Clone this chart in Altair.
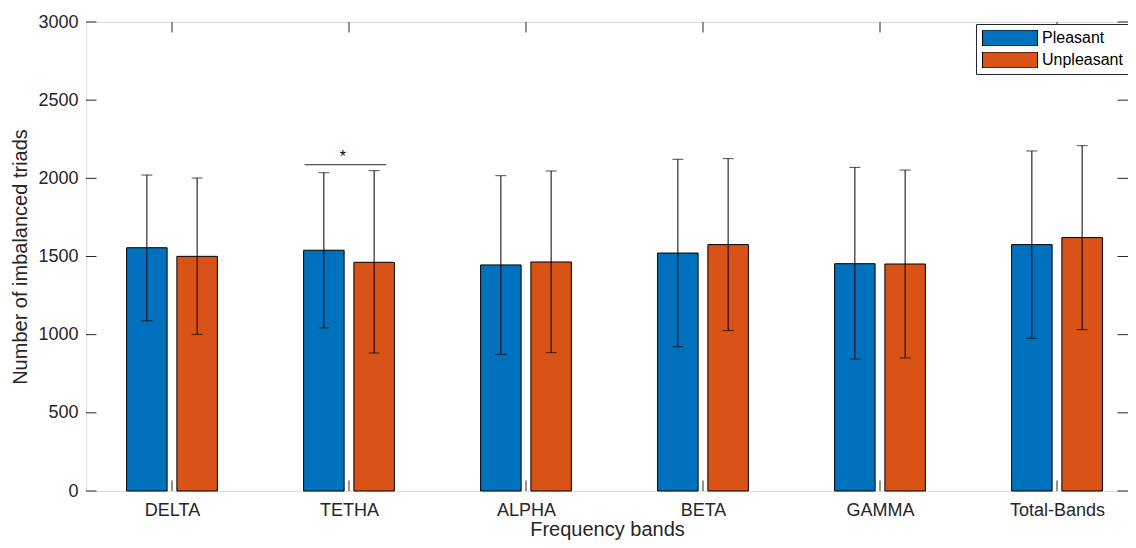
import altair as alt
import pandas as pd

# ---------------- data ----------------
bands = ["DELTA", "TETHA", "ALPHA", "BETA", "GAMMA", "Total-Bands"]
groups = ["Pleasant", "Unpleasant"]
pleasant_mean = [1556, 1540, 1446, 1522, 1454, 1576]
pleasant_low = [1089, 1043, 874, 923, 844, 977]
pleasant_high = [2021, 2036, 2017, 2122, 2070, 2175]
unpleasant_mean = [1501, 1463, 1465, 1576, 1452, 1621]
unpleasant_low = [1002, 883, 885, 1026, 851, 1032]
unpleasant_high = [2002, 2049, 2047, 2126, 2053, 2209]
y_ticks = [0, 500, 1000, 1500, 2000, 2500, 3000]
sig_band = "TETHA"
sig_value = 2087
sig_label = "*"

# ---------------- style ----------------
BLUE = "#0072BD"
ORANGE = "#D95319"
AX = "#262626"
FONT = "Liberation Sans"
W, H = 1042, 469
X0 = 1 - 86 / 177          # left limit of x scale (category units)
X1 = X0 + W / 177          # right limit
Y0, Y1 = 0, 3000
GROUP_OFF = 0.142
HALF_W = 0.1144
TICK_X = 10.5 / 177
TICK_Y = 10.5 * (Y1 - Y0) / H

rows = []
for i, b in enumerate(bands):
    for g, m, lo, hi, off in [
        ("Pleasant", pleasant_mean[i], pleasant_low[i], pleasant_high[i], -GROUP_OFF),
        ("Unpleasant", unpleasant_mean[i], unpleasant_low[i], unpleasant_high[i], GROUP_OFF),
    ]:
        pos = i + 1 + off
        rows.append(dict(band=b, group=g, mean=m, low=lo, high=hi, pos=pos,
                         xa=pos - HALF_W, xb=pos + HALF_W))
df = pd.DataFrame(rows)

xs = alt.Scale(domain=[X0, X1], nice=False, zero=False)
ys = alt.Scale(domain=[Y0, Y1], nice=False, zero=False)

label_expr = "[" + ",".join("'%s'" % b for b in bands) + "][datum.value-1]"

x_axis = alt.Axis(values=list(range(1, len(bands) + 1)), labelExpr=label_expr,
                  title="Frequency bands", tickSize=0, domain=False, grid=False,
                  labelPadding=10, labelFontSize=18, titleFontSize=20,
                  titleFontWeight="normal", titlePadding=0, labelFont=FONT,
                  titleFont=FONT, labelColor=AX, titleColor=AX)
y_axis = alt.Axis(values=y_ticks, format="d", title="Number of imbalanced triads",
                  tickSize=0, domain=False, grid=False, labelPadding=8, labelFontSize=18,
                  titleFontSize=20, titleFontWeight="normal", titlePadding=7,
                  labelFont=FONT, titleFont=FONT, labelColor=AX, titleColor=AX)

base = alt.Chart(df)

bars = base.mark_rect(stroke="black", strokeWidth=1).encode(
    x=alt.X("xa:Q", scale=xs, axis=x_axis),
    x2="xb:Q",
    y=alt.Y("mean:Q", scale=ys, axis=y_axis),
    y2=alt.datum(0),
    color=alt.Color("group:N",
                    scale=alt.Scale(domain=groups, range=[BLUE, ORANGE]),
                    legend=alt.Legend(title=None, orient="none", legendX=890, legendY=2,
                                      symbolType="M-1,-0.29H1V0.29H-1Z", symbolSize=3025,
                                      symbolStrokeColor="black", symbolStrokeWidth=1,
                                      symbolOpacity=1, labelFont=FONT, labelFontSize=16,
                                      labelColor="black", labelOffset=4,
                                      strokeColor=AX, fillColor="white", padding=6,
                                      rowPadding=6, clipHeight=16, labelLimit=300)),
)

err = base.mark_rule(color="black", strokeWidth=1).encode(
    x=alt.X("pos:Q", scale=xs), y=alt.Y("low:Q", scale=ys), y2="high:Q")
cap_lo = base.mark_tick(orient="horizontal", size=11, thickness=1, color="black").encode(
    x=alt.X("pos:Q", scale=xs), y=alt.Y("low:Q", scale=ys))
cap_hi = base.mark_tick(orient="horizontal", size=11, thickness=1, color="black").encode(
    x=alt.X("pos:Q", scale=xs), y=alt.Y("high:Q", scale=ys))

# significance marker
si = bands.index(sig_band) + 1
sig_df = pd.DataFrame([dict(xa=si - GROUP_OFF - HALF_W + 0.005, xb=si + 0.21,
                            y=sig_value, xm=si - 0.034, label=sig_label)])
sig_line = alt.Chart(sig_df).mark_rule(color=AX, strokeWidth=1).encode(
    x=alt.X("xa:Q", scale=xs), x2="xb:Q", y=alt.Y("y:Q", scale=ys))
sig_text = alt.Chart(sig_df).mark_text(font=FONT, fontSize=16, baseline="bottom",
                                       align="center", color="black").encode(
    x=alt.X("xm:Q", scale=xs), y=alt.Y("y:Q", scale=ys), text="label:N")

# inward ticks (MATLAB style box)
tick_rows = []
for v in y_ticks:
    tick_rows.append(dict(xa=X0, xb=X0 + TICK_X, ya=v, yb=v))
    tick_rows.append(dict(xa=X1 - TICK_X, xb=X1, ya=v, yb=v))
for i in range(1, len(bands) + 1):
    tick_rows.append(dict(xa=i, xb=i, ya=Y0, yb=Y0 + TICK_Y))
    tick_rows.append(dict(xa=i, xb=i, ya=Y1 - TICK_Y, yb=Y1))
ticks = alt.Chart(pd.DataFrame(tick_rows)).mark_rule(color=AX, strokeWidth=1).encode(
    x=alt.X("xa:Q", scale=xs), x2="xb:Q", y=alt.Y("ya:Q", scale=ys), y2="yb:Q")

chart = alt.layer(bars, err, cap_lo, cap_hi, sig_line, sig_text, ticks).properties(
    width=W, height=H,
    autosize=alt.AutoSizeParams(type="none"),
    padding={"left": 78, "top": 14, "right": 0, "bottom": 49},
).configure_view(stroke=AX, strokeWidth=1).configure(background="white")

chart.save("out.html", embed_options={"renderer": "svg", "actions": False})
